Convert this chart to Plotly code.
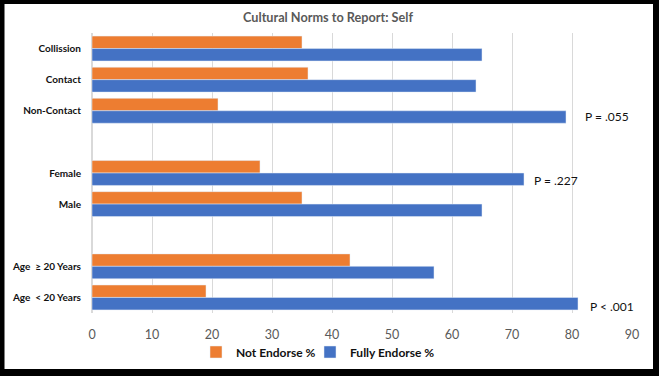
import plotly.graph_objects as go

categories = ["Collission", "Contact", "Non-Contact", " ", "Female", "Male", "  ",
              "Age  ≥ 20 Years", "Age  < 20 Years"]
not_endorse = [35, 36, 21, None, 28, 35, None, 43, 19]
fully_endorse = [65, 64, 79, None, 72, 65, None, 57, 81]
x_ticks = [0, 10, 20, 30, 40, 50, 60, 70, 80, 90]
p_labels = [("Non-Contact", 81.8, "P = .055", -6),
            ("Female", 73.3, "P = .227", -7),
            ("Age  < 20 Years", 82.7, "P < .001", -9)]

W, H = 659, 376
ML, MR, MT, MB = 92, 27, 33, 63
PW, PH = W - ML - MR, H - MT - MB

def px(x):
    return (x - ML) / PW

def py(y):
    return (H - MB - y) / PH

FONT = "Lato, 'Open Sans', sans-serif"

fig = go.Figure()
fig.add_trace(go.Bar(y=categories, x=not_endorse, orientation="h",
                     name="Not Endorse %", marker_color="#ED7D31", legend="legend"))
fig.add_trace(go.Bar(y=categories, x=fully_endorse, orientation="h",
                     name="Fully Endorse %", marker_color="#4472C4", legend="legend2"))

for cat, xv, txt, ys in p_labels:
    fig.add_annotation(x=xv, y=cat, text=txt, showarrow=False, xanchor="left",
                       yshift=ys, font=dict(family=FONT, size=12, color="#111111"))

# black frame around the image
border = [(0, 0, W, 4), (0, 369, W, H), (0, 0, 4.5, H), (653, 0, W, H)]
for x0, y0, x1, y1 in border:
    fig.add_shape(type="rect", xref="paper", yref="paper",
                  x0=px(x0), x1=px(x1), y0=py(y0), y1=py(y1),
                  fillcolor="black", line_width=0, layer="above")

legend_style = dict(orientation="h", xref="container", yref="container",
                    xanchor="left", y=1 - 352 / H, yanchor="middle",
                    bgcolor="rgba(0,0,0,0)", itemwidth=30,
                    font=dict(family=FONT, size=12, color="#111111", weight="bold"))

fig.update_layout(
    width=W, height=H,
    margin=dict(l=ML, r=MR, t=MT, b=MB, autoexpand=False),
    paper_bgcolor="white", plot_bgcolor="white",
    barmode="group", bargap=0.2, bargroupgap=0,
    title=dict(text="Cultural Norms to Report: Self", x=(328) / W, xanchor="center",
               y=1 - 18 / H, yanchor="middle",
               font=dict(family=FONT, size=12.7, color="#595959", weight="bold")),
    font=dict(family=FONT),
    showlegend=True,
    legend=dict(x=196 / W, **legend_style),
    legend2=dict(x=310 / W, **legend_style),
    xaxis=dict(range=[0, 90], tickvals=x_ticks, showgrid=True, gridcolor="#d9d9d9",
               zeroline=True, zerolinecolor="#d9d9d9", showline=False, automargin=False,
               tickfont=dict(family=FONT, size=12.5, color="#595959"),
               ticklabelstandoff=12),
    yaxis=dict(categoryorder="array", categoryarray=categories, autorange="reversed",
               showgrid=False, showline=False, zeroline=False, automargin=False,
               tickfont=dict(family=FONT, size=10, color="#111111", weight="bold"),
               ticklabelstandoff=10),
)

fig.write_html("out.html", config={"displayModeBar": False},
               post_script="document.body.style.margin='0';")
